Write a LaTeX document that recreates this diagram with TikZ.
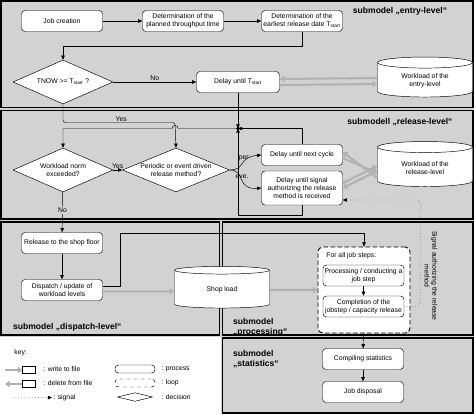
\documentclass[tikz,border=0pt]{standalone}
\usepackage{fontspec}
\setmainfont{Liberation Sans}
\usetikzlibrary{arrows.meta,shapes.geometric,positioning}

\newcommand\boxfont{\fontsize{5.8}{6.6}\selectfont}
\newcommand\titlefont{\fontsize{7.3}{8.3}\selectfont\bfseries}

\tikzset{
  panel/.style={draw=black, line width=1.2pt},
  proc/.style={draw, fill=white, rounded corners=3pt, minimum width=2.43cm, minimum height=0.63cm, align=center, font=\boxfont, inner sep=1pt},
  decision/.style={draw, fill=white, diamond, aspect=2.3, minimum width=3cm, minimum height=1.32cm, inner sep=0pt, align=center, font=\boxfont},
  store/.style={draw, fill=white, cylinder, shape border rotate=90, aspect=0.2, minimum width=2.85cm, minimum height=1.2cm, align=center, font=\boxfont},
  keystore/.style={draw, fill=white, cylinder, shape border rotate=90, aspect=0.5, minimum width=0.39cm, minimum height=0.22cm, inner sep=0pt},
  loopbox/.style={draw, dashed, dash pattern=on 4pt off 2pt, fill=white, rounded corners=4pt, thick, minimum width=2.76cm, minimum height=2.58cm},
  flow/.style={-{Triangle[length=3.5pt,width=3pt]}},
  filearrow/.style={draw=gray!60, line width=1.8pt, -{Triangle[length=4pt,width=5.5pt]}},
  sig/.style={dotted, rounded corners=3pt, -{Triangle[length=3.5pt,width=3pt]}},
  title/.style={font=\titlefont, align=left},
  lbl/.style={font=\boxfont, inner sep=1pt}
}

\begin{document}
\begin{tikzpicture}[x=0.03cm,y=-0.03cm]
\useasboundingbox (0,0) rectangle (474,414);
% panels
\fill[gray!35] (0,0) rectangle (474,414);
\fill[white] (0,337) rectangle (221,414);
\draw[panel] (1,1) rectangle (473,107.5);
\draw[panel] (1,110.5) rectangle (473,219);
\draw[panel] (1,222) rectangle (219.5,335);
\draw[panel] (222.5,222) rectangle (473,335);
\draw[panel] (222.5,338) rectangle (473,413);

% submodel entry-level
\node[title] at (400,11) {submodel „entry-level“};
\node[proc] (create) at (62,21) {Job creation};
\node[proc] (plan) at (183,21) {Determination of the\\planned throughput time};
\node[proc] (tstart) at (302,21) {Determination of the\\earliest release date T\textsubscript{start}};
\node[decision] (tnow) at (63,82) {TNOW >= T\textsubscript{start} ?};
\node[proc, minimum width=2.49cm] (waitstart) at (238,82) {Delay until T\textsubscript{start}};
\node[store] (entryload) at (425,81) {Workload of the\\entry-level};

\draw[flow] (create) -- (plan);
\draw[flow] (plan) -- (tstart);
\draw[flow] (tstart.south) -- ++(0,14) -| (tnow.north);
\draw[flow] (tnow) -- node[lbl, above]{No} (waitstart);
\draw[filearrow] ([yshift=0.09cm]entryload.west) -- ([yshift=0.09cm]waitstart.east);
\draw[filearrow] ([yshift=-0.09cm]waitstart.east) -- ([yshift=-0.09cm]entryload.west);

% submodell release-level
\node[title] at (400,122) {submodell „release-level“};
\coordinate (junc) at (238,128.5);
\coordinate (fork) at (175,122.5);
\node[decision] (norm) at (63,170) {Workload norm\\exceeded?};
\node[decision, minimum width=3.21cm] (method) at (176,170) {Periodic or event driven\\release method?};
\node[proc] (cycle) at (302,155) {Delay until next cycle};
\node[proc, minimum height=1.02cm] (signal) at (302,188) {Delay until signal\\authorizing the release\\method is received};
\node[store, minimum height=1.35cm] (releaseload) at (425,168) {Workload of the\\release-level};

\draw[flow] (waitstart) -- (junc);
\draw[flow, rounded corners=2pt] (tnow.south) |- node[lbl, pos=0.76, above]{Yes} (fork) -- (method.north);
\draw[flow] (cycle.north) |- (junc);
\draw[flow] (signal.south) -- ++(0,10) -| (junc);
\fill (junc) circle (1.6pt);
\draw[flow] (junc) -- ([xshift=0.09cm]fork |- junc) arc (0:-180:3) -| (norm.north);
\draw[flow] (norm) -- node[lbl, above]{Yes} (method);
\draw[flow] (method.east) .. controls (246,170) and (238,157) .. node[lbl, above, pos=0.55]{per} (cycle.west);
\draw[flow] (method.east) .. controls (246,170) and (236,190) .. node[lbl, above, pos=0.5]{eve.} (signal.west);
\draw[filearrow] ([yshift=-0.3cm]releaseload.west) -- ([yshift=0.09cm]cycle.east);
\draw[filearrow] ([yshift=-0.09cm]cycle.east) -- ([yshift=-0.15cm]releaseload.west);
\draw[filearrow] ([yshift=0.15cm]signal.east) -- ([yshift=0.06cm]releaseload.west);
\draw[filearrow] ([yshift=-0.09cm]releaseload.west) -- ([yshift=0cm]signal.east);

% submodel dispatch-level
\node[proc] (release) at (62,243) {Release to the shop floor};
\node[proc] (dispatch) at (62,290) {Dispatch / update of\\workload levels};
\node[store, minimum height=1.25cm] (shop) at (222,290) {Shop load};
\node[title, anchor=west] at (9,327) {submodel „dispatch-level“};

% submodel processing
\node[loopbox] (loop) at (364,290) {};
\node[lbl, anchor=west] at (325,256) {For all job steps:};
\node[proc, minimum width=2.43cm] (step) at (363.5,275.5) {Processing / conducting a\\job step};
\node[proc] (complete) at (363.5,306.5) {Completion of the\\jobstep / capacity release};
\node[title, anchor=west] at (229,327) {submodel\\„processing“};

\draw[flow] (norm) -- node[lbl, fill=gray!35, pos=0.45]{No} (release);
\draw[flow] (release) -- (dispatch);
\draw[filearrow] ([yshift=-0.04cm]dispatch.east) -- ([yshift=-0.04cm]shop.west);
\draw[flow] ([yshift=0.1cm]dispatch.east) -- ++(17,0) -- ++(0,-53) -| (loop.north);
\draw[filearrow] (shop.east) -- (loop.west);
\draw[flow] (step) -- (complete);
\draw[sig] (complete.east) -- ++(16,0) |- ([yshift=-0.36cm]signal.east);
\node[lbl, rotate=-90, align=center] at (431,276) {Signal authorizing the release\\method};

% submodel statistics
\node[proc] (stats) at (363,359) {Compiling statistics};
\node[proc] (dispose) at (363,392) {Job disposal};
\node[title, anchor=west] at (229,359) {submodel\\„statistics“};

\draw[flow] (loop) -- (stats);
\draw[flow] (stats) -- (dispose);

% key
\node[lbl, anchor=west] at (13,353) {key:};
\node[keystore] (keywrite) at (29,370) {};
\draw[filearrow] (5,370) -- (keywrite.west);
\node[lbl, anchor=west] at (42,369) {: write to file};
\node[keystore] (keydelete) at (29,384) {};
\draw[filearrow] (keydelete.west) -- (5,384);
\node[lbl, anchor=west] at (42,383) {: delete from file};
\coordinate (sigstart) at (10,398);
\node[lbl, anchor=west] (keysignal) at (52,397.5) {: signal};
\draw[sig] (sigstart) -- (keysignal.west);
\node[draw, fill=white, rounded corners=3pt, minimum width=1.2cm, minimum height=0.24cm, inner sep=0pt] (keyproc) at (135,369) {};
\node[lbl, anchor=west] at (160,369) {: process};
\node[draw, dashed, fill=white, rounded corners=3pt, minimum width=1.2cm, minimum height=0.24cm, inner sep=0pt] (keyloop) at (135,383) {};
\node[lbl, anchor=west] at (160,383) {: loop};
\node[draw, fill=white, diamond, aspect=4, minimum width=1.05cm, minimum height=0.26cm, inner sep=0pt] (keydec) at (135,397) {};
\node[lbl, anchor=west] at (160,397) {: decision};
\end{tikzpicture}
\end{document}
